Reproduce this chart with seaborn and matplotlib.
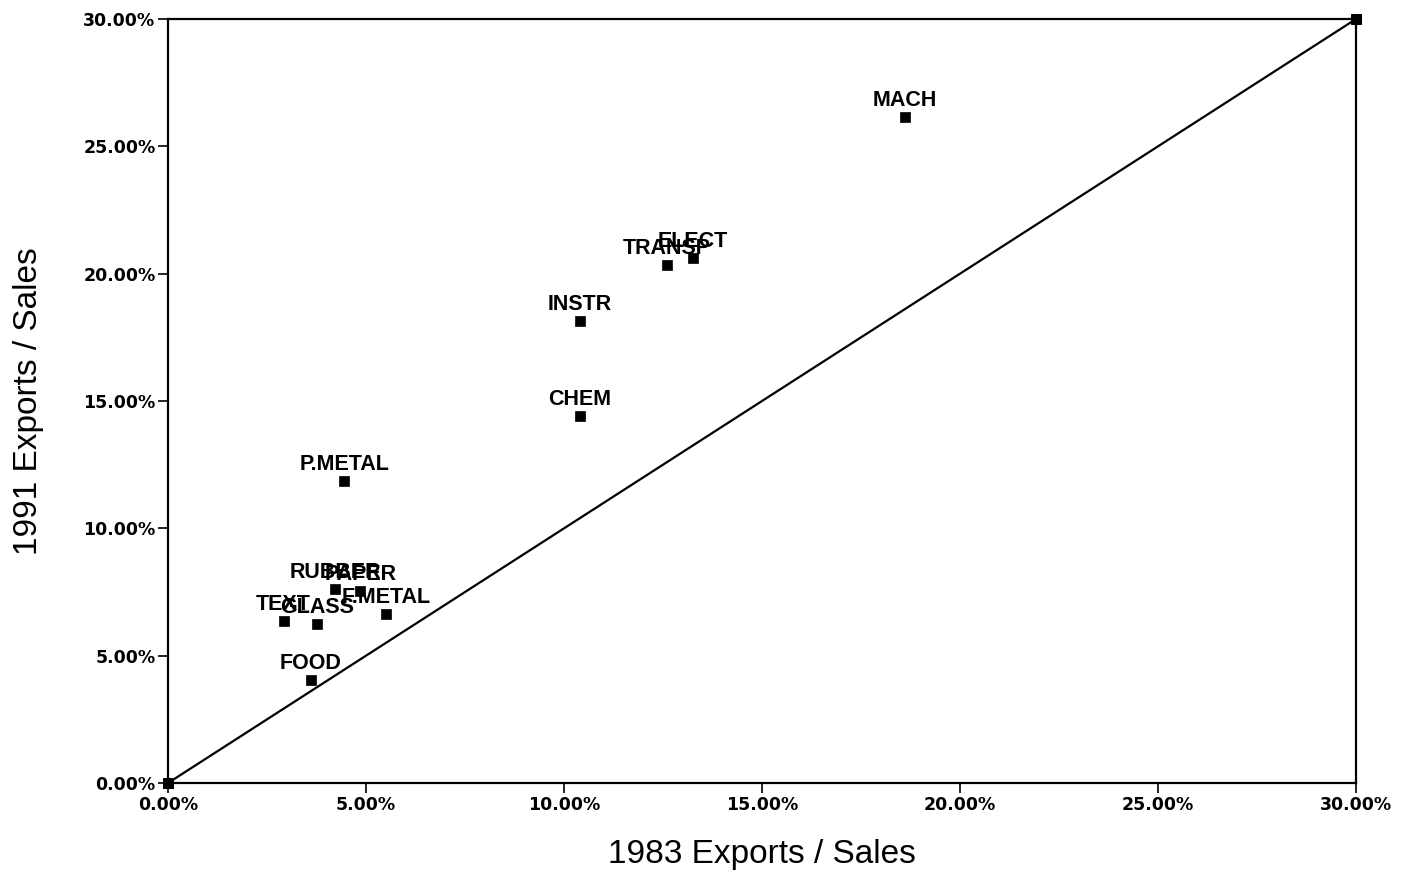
import matplotlib
matplotlib.use("Agg")
import matplotlib.pyplot as plt
import seaborn as sns
import pandas as pd
from matplotlib.ticker import FuncFormatter, MultipleLocator

# Export share of sales by industry, 1983 vs 1991 (percent)
industries = ["MACH", "ELECT", "TRANSP", "INSTR", "CHEM", "P.METAL",
              "RUBBER", "PAPER", "F.METAL", "TEXT", "GLASS", "FOOD"]
exports_1983 = [18.6, 13.25, 12.6, 10.4, 10.4, 4.45,
                4.22, 4.86, 5.5, 2.92, 3.76, 3.6]
exports_1991 = [26.15, 20.6, 20.35, 18.15, 14.4, 11.85,
                7.6, 7.55, 6.65, 6.35, 6.25, 4.05]

# 45-degree reference line end points
diag = [0.0, 30.0]

df = pd.DataFrame({"industry": industries,
                   "x83": exports_1983, "y91": exports_1991})

sns.set_style("white")
plt.rcParams["font.family"] = ["Liberation Sans", "DejaVu Sans"]
plt.rcParams["text.color"] = "black"
plt.rcParams["axes.labelcolor"] = "black"
plt.rcParams["xtick.color"] = "black"
plt.rcParams["ytick.color"] = "black"

fig = plt.figure(figsize=(14.14, 8.75), dpi=100)
ax = fig.add_axes([0.1188, 0.1051, 0.8402, 0.8732])

sns.lineplot(x=diag, y=diag, ax=ax, color="black", linewidth=1.6,
             marker="s", markersize=7, markeredgecolor="black",
             markerfacecolor="black", clip_on=False, zorder=5)
sns.scatterplot(data=df, x="x83", y="y91", ax=ax, marker="s", s=48,
                color="black", edgecolor="black", linewidth=0.5)

for name, xv, yv in zip(industries, exports_1983, exports_1991):
    ax.annotate(name, (xv, yv), xytext=(0, 8), textcoords="offset points",
                ha="center", va="baseline", fontsize=15.5,
                fontweight="semibold", color="black")

ax.set_xlim(0, 30)
ax.set_ylim(0, 30)
ax.xaxis.set_major_locator(MultipleLocator(5))
ax.yaxis.set_major_locator(MultipleLocator(5))
pct = FuncFormatter(lambda v, p: f"{v:.2f}%")
ax.xaxis.set_major_formatter(pct)
ax.yaxis.set_major_formatter(pct)

for side in ["left", "bottom", "top", "right"]:
    ax.spines[side].set_visible(True)
    ax.spines[side].set_color("black")
    ax.spines[side].set_linewidth(1.6)

ax.tick_params(axis="both", which="major", direction="out", length=7,
               width=1.2, color="black", labelcolor="black",
               bottom=True, left=True)
for lab in ax.get_xticklabels() + ax.get_yticklabels():
    lab.set_fontfamily("DejaVu Sans")
    lab.set_fontweight("bold")
    lab.set_fontsize(12.5)
ax.tick_params(axis="x", pad=2)
ax.tick_params(axis="y", pad=2)

ax.set_xlabel("1983 Exports / Sales", fontsize=24, labelpad=18,
              color="black")
ax.set_ylabel("1991 Exports / Sales", fontsize=24, labelpad=28,
              color="black")

fig.savefig("out.png", dpi=100, facecolor="white")
